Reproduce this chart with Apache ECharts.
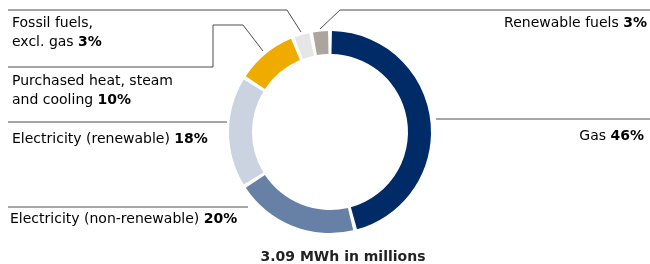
<!DOCTYPE html>
<html>
<head>
<meta charset="utf-8">
<script src="https://cdn.jsdelivr.net/npm/echarts@6/dist/echarts.min.js"></script>
<style>
  html, body { margin: 0; padding: 0; background: #fff; }
  #chart { width: 650px; height: 264px; }
</style>
</head>
<body>
<div id="chart"></div>
<script>
// energy consumption by source, clockwise from 12 o'clock
const categories = [
  'Gas',
  'Electricity (non-renewable)',
  'Electricity (renewable)',
  'Purchased heat, steam\nand cooling',
  'Fossil fuels,\nexcl. gas',
  'Renewable fuels'
]
const shares = [46, 20, 18, 10, 3, 3]
const colors = ['#002b67', '#6680a6', '#cbd3e1', '#f0ab00', '#e6e6e6', '#aaa59f']
const totalLabel = '3.09 MWh in millions'

const FONT = 'DejaVu Sans'

// where each label sits and how its leader line runs
const labelPos = [
  { x: 644, y: 127, align: 'right', line: [[436, 119], [650, 119]] },
  { x: 10, y: 210, align: 'left', line: [[8, 207], [248, 207]] },
  { x: 12, y: 130, align: 'left', line: [[8, 122], [227, 122]] },
  { x: 12, y: 72, align: 'left', line: [[263, 51], [243, 25], [213, 25], [213, 67], [8, 67]] },
  { x: 12, y: 14, align: 'left', line: [[301, 32], [287, 10], [8, 10]] },
  { x: 647, y: 14, align: 'right', line: [[320, 29], [340, 10], [650, 10]] }
]

const chart = echarts.init(document.getElementById('chart'))

const labelText = (name, v) => {
  const rows = name.split('\n')
  return rows.map((r, i) => i === rows.length - 1
    ? `{n|${r} }{b|${v}%}`
    : `{n|${r}}`).join('\n')
}

const graphics = []
categories.forEach((name, i) => {
  const p = labelPos[i]
  graphics.push({
    type: 'polyline',
    shape: { points: p.line },
    style: { stroke: '#4d4d4d', lineWidth: 1, fill: null },
    silent: true
  })
  graphics.push({
    type: 'text',
    x: p.x,
    y: p.y,
    style: {
      text: labelText(name, shares[i]),
      align: p.align,
      verticalAlign: 'top',
      rich: {
        n: { fontFamily: FONT, fontSize: 14, color: '#333', lineHeight: 19 },
        b: { fontFamily: FONT, fontSize: 14, color: '#222', fontWeight: 'bold', lineHeight: 19 }
      }
    },
    silent: true
  })
})

const option = {
  animation: false,
  title: {
    text: totalLabel,
    left: 338,
    top: 245,
    textAlign: 'center',
    textStyle: { fontFamily: FONT, fontSize: 14, fontWeight: 'bold', color: '#222' }
  },
  graphic: graphics,
  series: [
    {
      type: 'pie',
      center: [330, 132],
      radius: [78, 101],
      startAngle: 90,
      clockwise: true,
      padAngle: 2.2,
      label: { show: false },
      labelLine: { show: false },
      data: categories.map((c, i) => ({
        name: c,
        value: shares[i],
        itemStyle: { color: colors[i] }
      }))
    }
  ]
}

chart.setOption(option)
</script>
</body>
</html>
